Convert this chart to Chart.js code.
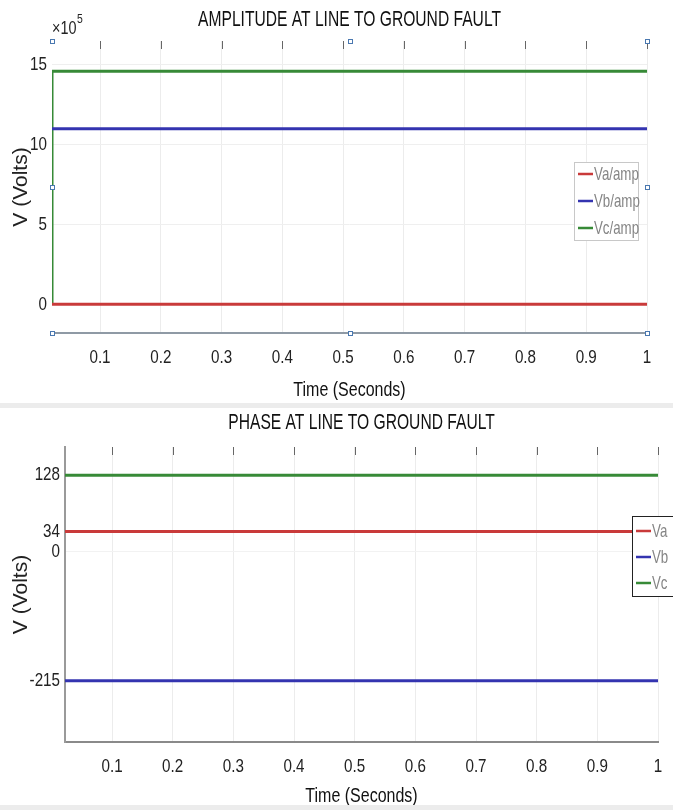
<!DOCTYPE html>
<html>
<head>
<meta charset="utf-8">
<script src="https://cdn.jsdelivr.net/npm/chart.js@4.4.0/dist/chart.umd.min.js"></script>
<style>
  body { margin: 0; background: #fff; }
  #wrap { position: relative; width: 673px; height: 810px; overflow: hidden; }
  .box { position: absolute; left: 0; width: 673px; }
  .sep { position: absolute; left: 0; width: 673px; height: 5px; background: #ececec; }
</style>
</head>
<body>
<div id="wrap">
  <div class="box" style="top:0;height:403px"><canvas id="ampChart" width="673" height="403"></canvas></div>
  <div class="sep" style="top:403px"></div>
  <div class="box" style="top:408px;height:402px"><canvas id="phaseChart" width="673" height="402"></canvas></div>
  <div class="sep" style="top:805px"></div>
</div>
<script>
// Time axis
const timeTicks = [0.1, 0.2, 0.3, 0.4, 0.5, 0.6, 0.7, 0.8, 0.9, 1.0]
const timeLabels = ['0.1', '0.2', '0.3', '0.4', '0.5', '0.6', '0.7', '0.8', '0.9', '1']

// Amplitude (Volts), Vc steps up from 0 at the start
const ampTime = [0.021, 0.021, 1.0]
const vaAmp = [0, 0, 0]
const vbAmp = [1.10e6, 1.10e6, 1.10e6]
const vcAmp = [0, 1.46e6, 1.46e6]
const ampTicks = [0, 5e5, 10e5, 15e5]

// Phase (degrees)
const phaseTime = [0.0225, 1.0]
const vaPhase = [34, 34]
const vbPhase = [-215, -215]
const vcPhase = [128, 128]
const phaseTicks = [-215, 0, 34, 128]

const RED = '#c93a3a'
const BLUE = '#3434b0'
const GREEN = '#378a37'
const FONT = "'Liberation Sans', Arial, sans-serif"

const toPoints = (xs, ys) => xs.map((x, i) => ({ x: x, y: ys[i] }))

// no narrow font installed, so squeeze the regular one horizontally
function narrowText(ctx, text, x, y, size, align, sx, color) {
  ctx.save()
  ctx.translate(x, y)
  ctx.scale(sx, 1)
  ctx.font = `${size}px ${FONT}`
  ctx.fillStyle = color
  ctx.textAlign = align
  ctx.textBaseline = 'middle'
  ctx.fillText(text, 0, 0)
  ctx.restore()
}

// Draws title, tick labels, x title, top tick marks, handles and the boxed legend
const decorPlugin = {
  id: 'decor',
  afterDraw(chart, args, opts) {
    const ctx = chart.ctx
    const area = chart.chartArea
    const xs = chart.scales.x
    const ys = chart.scales.y
    const midX = (area.left + area.right) / 2
    ctx.save()

    narrowText(ctx, opts.title, midX, opts.titleY, 22, 'center', 0.71, '#111')

    if (opts.exponent) {
      narrowText(ctx, '\u00d710', area.left, 29, 18, 'left', 0.8, '#222')
      narrowText(ctx, '5', area.left + 25, 19, 13, 'left', 0.8, '#222')
    }

    xs.ticks.forEach(t => {
      narrowText(ctx, t.label, xs.getPixelForValue(t.value), area.bottom + opts.xLabelGap, 19, 'center', 0.8, '#222')
    })
    ys.ticks.forEach(t => {
      narrowText(ctx, t.label, area.left - 5, ys.getPixelForValue(t.value), 19, 'right', 0.8, '#222')
    })
    narrowText(ctx, 'Time (Seconds)', midX, opts.xTitleY, 20, 'center', 0.8, '#111')

    // short tick marks hanging from the top edge
    ctx.strokeStyle = '#666'
    ctx.lineWidth = 1
    xs.ticks.forEach(t => {
      const px = Math.round(xs.getPixelForValue(t.value)) + 0.5
      ctx.beginPath()
      ctx.moveTo(px, area.top)
      ctx.lineTo(px, area.top + 8)
      ctx.stroke()
    })

    if (opts.handles) {
      const midY = (area.top + area.bottom) / 2
      const pts = [
        [area.left, area.top], [midX, area.top], [area.right, area.top],
        [area.left, midY], [area.right, midY],
        [area.left, area.bottom], [midX, area.bottom], [area.right, area.bottom]
      ]
      ctx.strokeStyle = '#4a78b0'
      ctx.fillStyle = '#fff'
      pts.forEach(([hx, hy]) => {
        ctx.fillRect(Math.round(hx) - 2, Math.round(hy) - 2, 4, 4)
        ctx.strokeRect(Math.round(hx) - 1.5, Math.round(hy) - 1.5, 4, 4)
      })
    }

    // legend box
    const lg = opts.legend
    ctx.fillStyle = '#fff'
    ctx.fillRect(lg.x, lg.y, lg.w, lg.h)
    ctx.strokeStyle = lg.border
    ctx.lineWidth = 1
    ctx.strokeRect(lg.x + 0.5, lg.y + 0.5, lg.w, lg.h)
    chart.data.datasets.forEach((ds, i) => {
      const ly = lg.y + lg.first + i * lg.rowH
      ctx.strokeStyle = ds.borderColor
      ctx.lineWidth = 2.5
      ctx.beginPath()
      ctx.moveTo(lg.x + 4, ly)
      ctx.lineTo(lg.x + 19, ly)
      ctx.stroke()
      narrowText(ctx, ds.label, lg.x + 20, ly + 1, 19, 'left', 0.7, '#858585')
    })
    ctx.restore()
  }
}

function timeScale(min, max, borderColor, height) {
  return {
    type: 'linear',
    min: min,
    max: max,
    afterBuildTicks: (axis) => { axis.ticks = timeTicks.map(v => ({ value: v })) },
    afterFit: (axis) => { axis.height = height },
    grid: { color: '#ececec', drawTicks: false },
    border: { display: true, color: borderColor, width: 2 },
    ticks: {
      display: false,
      callback: (v, i) => timeLabels[i]
    }
  }
}

function voltsTitle() {
  return {
    display: true,
    text: 'V (Volts)',
    color: '#222',
    font: { family: FONT, size: 21 },
    padding: { top: 9, bottom: 0 }
  }
}

function lineDataset(label, xs, ys, color) {
  return {
    label: label,
    data: toPoints(xs, ys),
    borderColor: color,
    backgroundColor: color,
    borderWidth: 3,
    pointRadius: 0,
    tension: 0
  }
}

const ampChart = new Chart(document.getElementById('ampChart'), {
  type: 'line',
  data: {
    datasets: [
      lineDataset('Va/amp', ampTime, vaAmp, RED),
      lineDataset('Vb/amp', ampTime, vbAmp, BLUE),
      lineDataset('Vc/amp', ampTime, vcAmp, GREEN)
    ]
  },
  plugins: [decorPlugin],
  options: {
    responsive: false,
    animation: false,
    layout: { padding: { top: 41, right: 26, left: 0, bottom: 0 } },
    scales: {
      x: timeScale(0.021, 1.0, '#8f9aa5', 70),
      y: {
        type: 'linear',
        min: -1.8e5,
        max: 16.5e5,
        afterBuildTicks: (axis) => { axis.ticks = ampTicks.map(v => ({ value: v })) },
        afterFit: (axis) => { axis.width = 52 },
        grid: { color: '#efefef', drawTicks: false },
        border: { display: false },
        ticks: { display: false, callback: (v) => String(v / 1e5) },
        title: voltsTitle()
      }
    },
    plugins: {
      legend: { display: false },
      tooltip: { enabled: false },
      decor: {
        title: 'AMPLITUDE AT LINE TO GROUND FAULT',
        titleY: 20,
        exponent: true,
        handles: true,
        xLabelGap: 25,
        xTitleY: 390,
        legend: { x: 574, y: 162, w: 64, h: 78, first: 12, rowH: 27, border: '#c8c8c8' }
      }
    }
  }
})

const phaseChart = new Chart(document.getElementById('phaseChart'), {
  type: 'line',
  data: {
    datasets: [
      lineDataset('Va', phaseTime, vaPhase, RED),
      lineDataset('Vb', phaseTime, vbPhase, BLUE),
      lineDataset('Vc', phaseTime, vcPhase, GREEN)
    ]
  },
  plugins: [decorPlugin],
  options: {
    responsive: false,
    animation: false,
    layout: { padding: { top: 39, right: 15, left: 0, bottom: 0 } },
    scales: {
      x: timeScale(0.0225, 1.0, '#8a8a8a', 68),
      y: {
        type: 'linear',
        min: -317,
        max: 175,
        afterBuildTicks: (axis) => { axis.ticks = phaseTicks.map(v => ({ value: v })) },
        afterFit: (axis) => { axis.width = 65 },
        grid: { color: '#f2f2f2', drawTicks: false },
        border: { display: true, color: '#9a9a9a', width: 2 },
        ticks: { display: false },
        title: voltsTitle()
      }
    },
    plugins: {
      legend: { display: false },
      tooltip: { enabled: false },
      decor: {
        title: 'PHASE AT LINE TO GROUND FAULT',
        titleY: 15,
        exponent: false,
        handles: false,
        xLabelGap: 25,
        xTitleY: 388,
        legend: { x: 632, y: 108, w: 60, h: 80, first: 15, rowH: 26, border: '#222' }
      }
    }
  }
})
</script>
</body>
</html>
